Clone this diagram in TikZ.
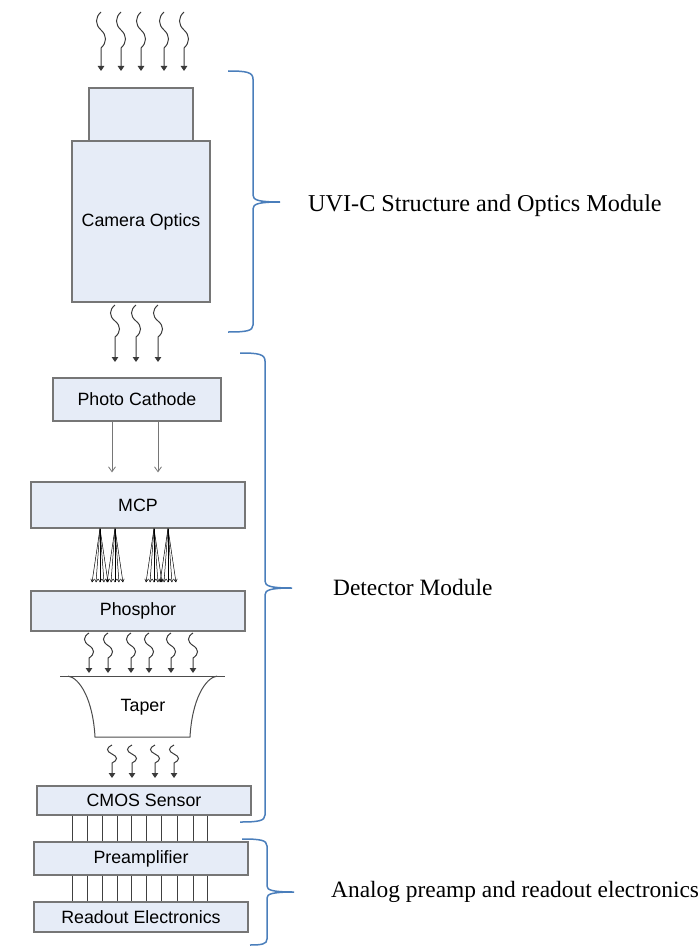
\documentclass[tikz,border=0pt]{standalone}
\usepackage{fontspec}
\setmainfont{Liberation Serif}
\setsansfont{Liberation Sans}
\usetikzlibrary{arrows.meta,calc}
\definecolor{boxfill}{HTML}{E6ECF7}
\definecolor{boxline}{HTML}{767676}
\definecolor{bracec}{HTML}{4A7EBB}
\definecolor{wavec}{HTML}{3A3A3A}
\newcommand{\wavyarr}[4]{\draw[wavyline] (#1,#2) .. controls ({#1-6},{#2+0.15*(#3-#2)}) and ({#1-6},{#2+0.35*(#3-#2)}) .. (#1,{#2+0.5*(#3-#2)}) .. controls ({#1+6},{#2+0.65*(#3-#2)}) and ({#1+6},{#2+0.85*(#3-#2)}) .. (#1,#3) -- (#1,#4);}
\tikzset{
  box/.style={draw=boxline, fill=boxfill, line width=1.1pt, inner sep=0pt, font=\sffamily\fontsize{17.8}{20}\selectfont},
  wavyline/.style={draw=wavec, line width=1pt, -{Triangle[length=5pt,width=6.5pt]}},
  thinarrow/.style={draw=boxline, line width=0.8pt, -{Straight Barb[length=5pt,width=7pt]}},
  fanarrow/.style={draw=black, line width=0.5pt, -{Straight Barb[length=3pt,width=3.5pt]}},
  wire/.style={draw=black!75, line width=0.7pt},
  brace/.style={draw=bracec, line width=1.5pt},
  lbl/.style={anchor=west, inner sep=0pt, font=\fontsize{23.4}{26}\selectfont}
}
\begin{document}
\begin{tikzpicture}[x=1pt,y=-1pt]
\useasboundingbox (0,0) rectangle (699,947);
% optics
\foreach \x in {101,121,141,164,184} {\wavyarr{\x}{12}{48}{71}}
\node[box, minimum width=104pt, minimum height=53pt] (lens) at (141,114.5) {};
\node[box, minimum width=138pt, minimum height=161pt] (cam) at (141,221.5) {Camera Optics};
\foreach \x in {115,136,158} {\wavyarr{\x}{305}{337}{362}}
% detector
\node[box, minimum width=168pt, minimum height=43pt] (pc) at (137,399.5) {Photo Cathode};
\node[box, minimum width=214pt, minimum height=46pt] (mcp) at (138,505) {MCP};
\node[box, minimum width=214pt, minimum height=40pt] (phos) at (138,611) {Phosphor};
\foreach \x in {112,158} {
  \path (\x,0) coordinate (ax);
  \draw[thinarrow, shorten >=9pt] (pc.south -| ax) -- (mcp.north -| ax);
}
\foreach \s in {100,115,154,168} {
  \path (\s,0) coordinate (fs);
  \foreach \d in {-8,-4,0,4,8} {
    \draw[fanarrow] (mcp.south -| fs) -- ($(phos.north -| fs)+(\d,-8)$);
  }
}
\foreach \x in {89,108,131,149,171,193} {\wavyarr{\x}{633}{658}{673}}
% taper
\draw[draw=black!70, line width=1pt] (60,676) -- (225,676);
\draw[draw=black!70, line width=1pt] (68,676) .. controls (80,678) and (93,700) .. (95,737) -- (190,737) .. controls (192,700) and (205,678) .. (217,676);
\node[inner sep=0pt, font=\sffamily\fontsize{17.8}{20}\selectfont] (taper) at (143,707) {Taper};
\foreach \x in {112,132,155,174} {\wavyarr{\x}{745}{763}{778}}
\node[box, minimum width=214pt, minimum height=29pt] (cmos) at (144,800.5) {CMOS Sensor};
% electronics
\node[box, minimum width=214pt, minimum height=33pt] (pre) at (141,858.5) {Preamplifier};
\node[box, minimum width=214pt, minimum height=30pt] (ro) at (141,917) {Readout Electronics};
\foreach \x in {72,87,102,117,131,146,161,177,193,207} {
  \path (\x,0) coordinate (wx);
  \draw[wire] (cmos.south -| wx) -- (pre.north -| wx);
  \draw[wire] (pre.south -| wx) -- (ro.north -| wx);
}
% braces
\draw[brace] (228,71) .. controls (246,71) and (253,72) .. (253,79) -- (253,195) .. controls (253,200) and (258,202) .. (280,202) .. controls (258,202) and (253,204) .. (253,209) -- (253,325) .. controls (253,331) and (246,332) .. (228,332);
\draw[brace] (240,353) .. controls (258,353) and (265,354) .. (265,361) -- (265,581) .. controls (265,586) and (270,588) .. (292,588) .. controls (270,588) and (265,590) .. (265,595) -- (265,815) .. controls (265,821) and (258,822) .. (240,822);
\draw[brace] (242,839) .. controls (260,839) and (267,840) .. (267,846) -- (267,886) .. controls (267,890) and (272,892) .. (294,892) .. controls (272,892) and (267,894) .. (267,898) -- (267,939) .. controls (267,944) and (262,945) .. (250,945);
% labels
\node[lbl, font=\fontsize{24.2}{27}\selectfont] (l1) at (308,206) {UVI-C Structure and Optics Module};
\node[lbl] (l2) at (333,587) {Detector Module};
\node[lbl] (l3) at (331,892) {Analog preamp and readout electronics};
\end{tikzpicture}
\end{document}
